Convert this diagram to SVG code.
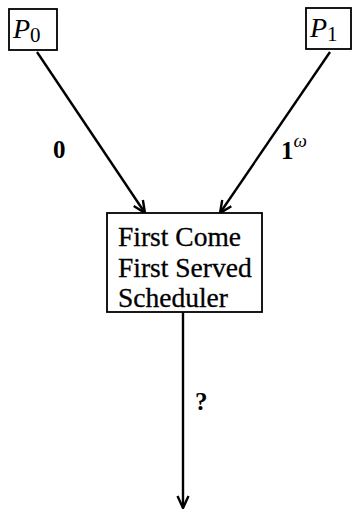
<svg xmlns="http://www.w3.org/2000/svg" width="355" height="517" viewBox="0 0 355 517">
  <style>
    .box { fill: #fff; stroke: #000; stroke-width: 1.8; }
    .edge { stroke: #000; stroke-width: 2.4; fill: none; marker-end: url(#head); }
    .txt { font-family: "Liberation Serif", "Times New Roman", serif; fill: #000; }
    .proc { font-size: 28px; font-style: italic; }
    .sub { font-size: 21px; font-style: normal; }
    .lbl { font-size: 25px; font-weight: bold; }
    .body { font-size: 27.5px; stroke: #000; stroke-width: 0.3; }
  </style>
  <defs>
    <marker id="head" viewBox="0 0 14 14" refX="13" refY="7" markerWidth="14" markerHeight="14" markerUnits="userSpaceOnUse" orient="auto">
      <path d="M1,1.5 L13,7 L1,12.5" fill="none" stroke="#000" stroke-width="2.4"/>
    </marker>
  </defs>

  <!-- connectors -->
  <g id="edges">
    <line class="edge" x1="37" y1="52" x2="145" y2="213"/>
    <line class="edge" x1="330" y1="52" x2="220" y2="213"/>
    <line class="edge" x1="183" y1="312" x2="183" y2="508"/>
    <text class="txt lbl" x="53" y="158">0</text>
    <text class="txt lbl" x="281" y="159">1<tspan font-size="19" font-style="italic" font-weight="normal" dy="-12">ω</tspan></text>
    <text class="txt lbl" x="195" y="410">?</text>
  </g>

  <!-- process P0 -->
  <g id="p0">
    <rect class="box" x="9" y="9" width="48" height="41"/>
    <text class="txt proc" x="13" y="38">P<tspan class="sub" dy="4">0</tspan></text>
  </g>

  <!-- process P1 -->
  <g id="p1">
    <rect class="box" x="306" y="8" width="45" height="41"/>
    <text class="txt proc" x="310" y="37">P<tspan class="sub" dy="4">1</tspan></text>
  </g>

  <!-- scheduler -->
  <g id="scheduler">
    <rect class="box" x="107" y="213" width="155" height="99"/>
    <text class="txt body" x="118" y="246">First Come</text>
    <text class="txt body" x="118" y="277">First Served</text>
    <text class="txt body" x="118" y="307">Scheduler</text>
  </g>
</svg>
